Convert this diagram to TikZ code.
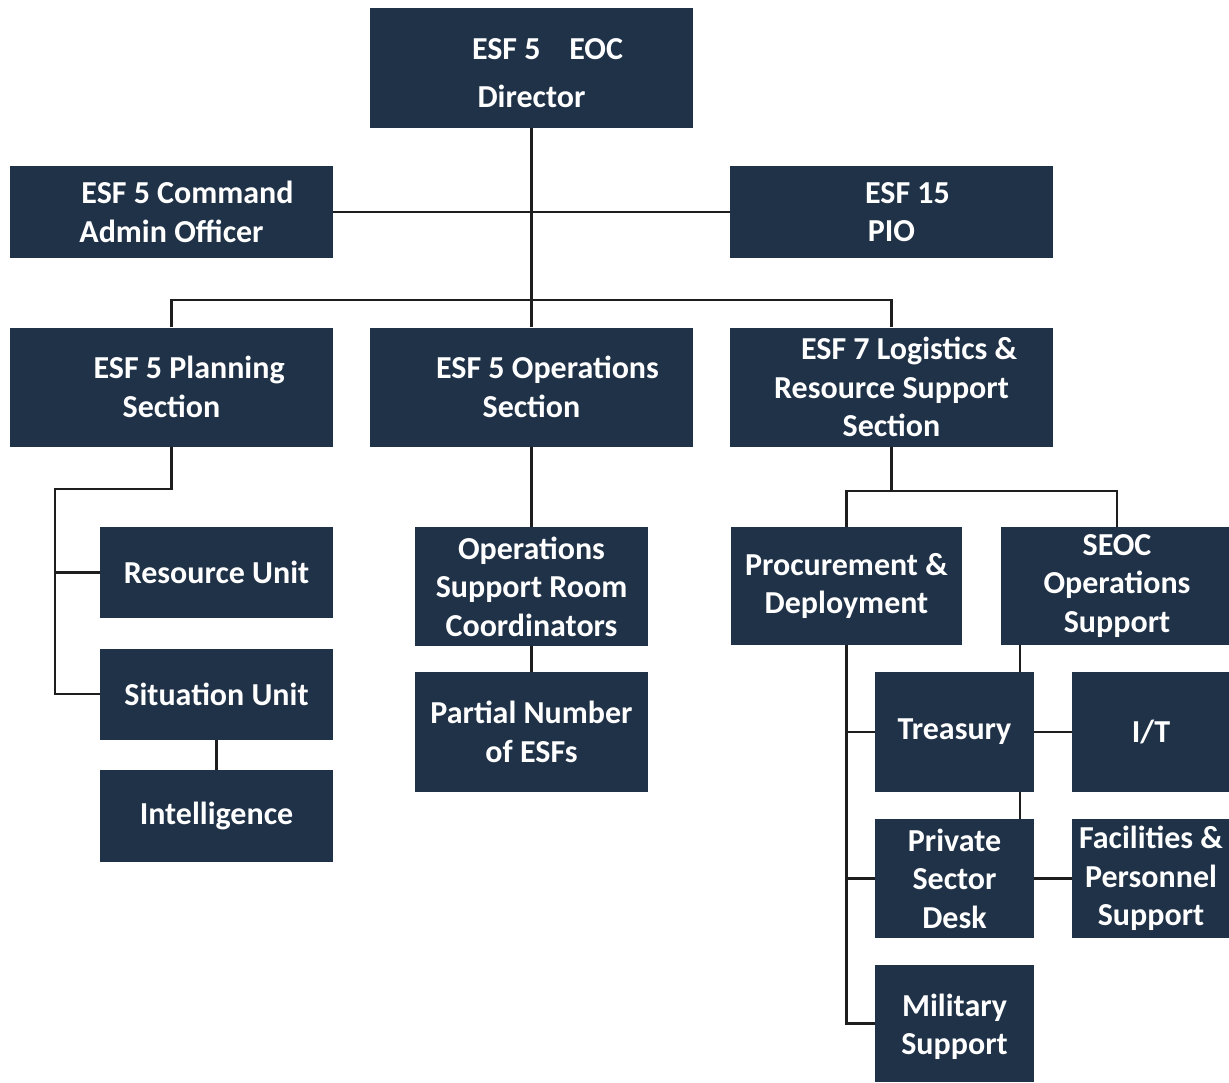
\documentclass[tikz,border=0pt]{standalone}
\usepackage{fontspec}
\setmainfont{Carlito}
\definecolor{boxblue}{RGB}{32,50,72}
\definecolor{linecol}{RGB}{30,30,30}
\begin{document}
\begin{tikzpicture}[x=1pt,y=-1pt,
  box/.style={fill=boxblue, draw=none, text=white, align=center,
    font=\bfseries\fontsize{32}{38.5}\selectfont, inner sep=0pt},
  conn/.style={draw=linecol, line width=2.5pt}]
\useasboundingbox (0,0) rectangle (1229,1082);
\fill[white] (0,0) rectangle (1229,1082);
% boxes
\node[box, minimum width=323, minimum height=120] (dir) at (531.5,68) {\rule{0pt}{31pt}\hspace*{1em}ESF 5\hspace{0.9em}EOC\\[9pt]Director};
\node[box, minimum width=323, minimum height=92] (cmd) at (171.5,212) {\hspace*{1em}ESF 5 Command\\Admin Officer};
\node[box, minimum width=323, minimum height=92] (pio) at (891.5,212) {\hspace*{1em}ESF 15\\PIO};
\node[box, minimum width=323, minimum height=119] (plan) at (171.5,387) {\hspace*{1.1em}ESF 5 Planning\\Section};
\node[box, minimum width=323, minimum height=119] (ops) at (531.5,387) {\hspace*{1em}ESF 5 Operations\\Section};
\node[box, minimum width=323, minimum height=119] (log) at (891.5,387) {\hspace*{1.1em}ESF 7 Logistics \&\\Resource Support\\Section};
\node[box, minimum width=233, minimum height=91] (res) at (216.5,572.5) {Resource Unit};
\node[box, minimum width=233, minimum height=91] (sit) at (216.5,694) {Situation Unit};
\node[box, minimum width=233, minimum height=92] (intel) at (216.5,816) {Intelligence};
\node[box, minimum width=233, minimum height=119] (osr) at (531.5,586.5) {Operations\\Support Room\\Coordinators};
\node[box, minimum width=233, minimum height=120] (pn) at (531.5,732) {Partial Number\\of ESFs};
\node[box, minimum width=231, minimum height=118] (proc) at (846.5,586) {Procurement \&\\Deployment};
\node[box, minimum width=232, minimum height=118] (seoc) at (1117,586) {SEOC\\Operations\\Support};
\node[box, minimum width=159, minimum height=120] (tre) at (954.5,732) {Treasury};
\node[box, minimum width=158, minimum height=120] (it) at (1151,732) {I/T};
\node[box, minimum width=159, minimum height=119] (priv) at (954.5,878.5) {Private\\Sector\\Desk};
\node[box, minimum width=158, minimum height=119] (fac) at (1151,878.5) {Facilities \&\\Personnel\\Support};
\node[box, minimum width=159, minimum height=117] (mil) at (954.5,1023.5) {\rule{0pt}{29pt}Military\\Support};
% connectors
\coordinate (bus) at (531.5,300);
\draw[conn] (dir.south) -- (ops.north);
\draw[conn] (plan.north) |- (bus) -| (log.north);
\draw[conn] (cmd.east) -- (pio.west);
\coordinate (plbend) at (55,489);
\draw[conn] (plan.south) |- (plbend) |- (sit.west);
\draw[conn] (plbend |- res.west) -- (res.west);
\draw[conn] (sit.south) -- (intel.north);
\draw[conn] (ops.south) -- (osr.north);
\draw[conn] (osr.south) -- (pn.north);
\coordinate (lgbend) at (891.5,491);
\draw[conn] (log.south) -- (lgbend);
\draw[conn] (proc.north) |- (lgbend) -| (seoc.north);
\draw[conn] (proc.south) |- (mil.west);
\draw[conn] (proc.south |- tre.west) -- (tre.west);
\draw[conn] (proc.south |- priv.west) -- (priv.west);
\draw[conn] ([xshift=-14pt]tre.north east) -- ([xshift=-14pt]tre.north east |- seoc.south);
\draw[conn] ([xshift=-14pt]tre.south east) -- ([xshift=-14pt]priv.north east);
\draw[conn] (tre.east) -- (it.west);
\draw[conn] (priv.east) -- (fac.west);
\end{tikzpicture}
\end{document}
